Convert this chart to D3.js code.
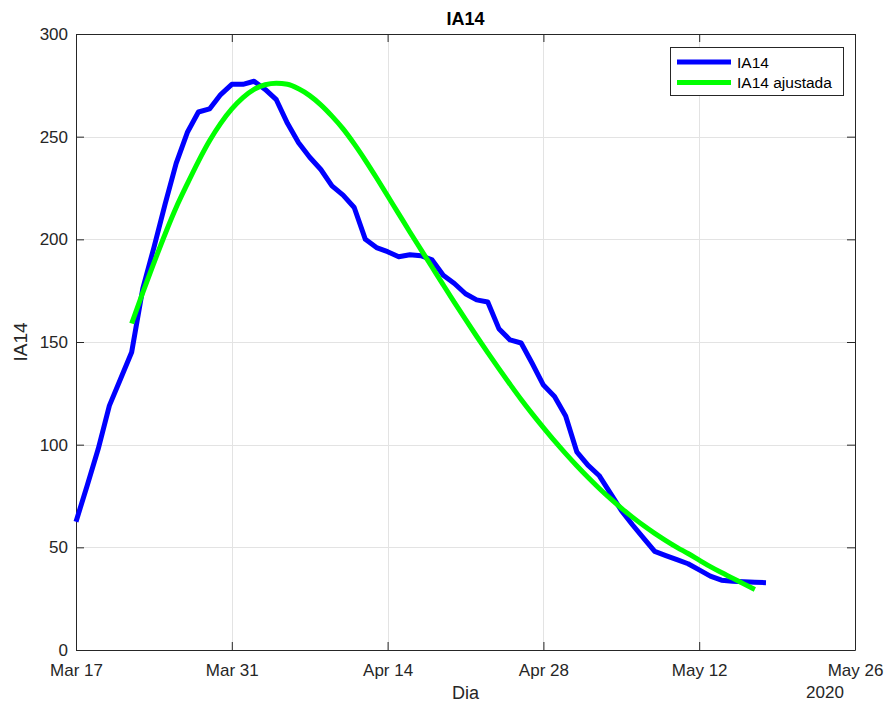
<!DOCTYPE html>
<html>
<head>
<meta charset="utf-8">
<script src="https://cdn.jsdelivr.net/npm/d3@7"></script>
<style>
  html, body { margin: 0; padding: 0; background: #fff; }
  svg { display: block; font-family: "Liberation Sans", Arial, Helvetica, sans-serif; }
</style>
</head>
<body>
<svg id="chart" width="890" height="704"></svg>
<script>
// Daily IA14 series starting on 17 March 2020
const startDate = new Date(2020, 2, 17);
const ia14 = [
  62.5, 80, 98, 119, 132, 145, 176, 196, 217, 237,
  252, 262, 263.5, 270.5, 275.5, 275.5, 277, 273, 268, 256.5,
  247, 240, 234, 226, 221.5, 215.5, 200, 196, 194, 191.5,
  192.5, 192, 190, 182.5, 178.5, 173.5, 170.5, 169.5, 156.5, 151,
  149.5, 139.5, 129, 123.5, 114, 96.5, 90, 85, 76.5, 68,
  61, 54.5, 48, 46, 44, 42, 39, 36, 34, 33.5,
  33.2, 33, 32.8
];
// Fitted curve, daily from 22 March 2020
const fitStartDate = new Date(2020, 2, 22);
const ia14Fit = [
  159, 174, 188.5, 202.5, 215.5, 227, 238, 248, 256.5, 263.5,
  269, 273, 275.3, 276, 275.5, 273.3, 270, 265.5, 260, 253.8,
  246.5, 238.5, 230, 221.2, 212.4, 203.6, 195, 186.4, 177.8, 169.3,
  161, 152.8, 144.8, 137, 129.4, 122, 115, 108.3, 101.8, 95.6,
  89.7, 84.1, 78.8, 73.8, 69.1, 64.7, 60.6, 56.8, 53.3, 50,
  47, 43.8, 40.6, 37.7, 35, 32.2, 29.5
];
const xTickDates = [
  new Date(2020, 2, 17), new Date(2020, 2, 31), new Date(2020, 3, 14),
  new Date(2020, 3, 28), new Date(2020, 4, 12), new Date(2020, 4, 26)
];
const yTicks = [0, 50, 100, 150, 200, 250, 300];
const seriesNames = ["IA14", "IA14 ajustada"];
const seriesColors = ["#0000ff", "#00ff00"];

(function () {
  const dayMs = 24 * 3600 * 1000;
  const toPoints = (start, vals) => vals.map((v, i) => ({ date: new Date(start.getTime() + i * dayMs), v }));

  const svg = d3.select("#chart");
  const mL = 76, mR = 855, mT = 34, mB = 650;
  const axisColor = "#262626";

  const x = d3.scaleTime().domain([xTickDates[0], xTickDates[xTickDates.length - 1]]).range([mL, mR]);
  const y = d3.scaleLinear().domain([0, 300]).range([mB, mT]);

  svg.append("rect").attr("width", 890).attr("height", 704).attr("fill", "#fff");

  // Grid
  const grid = svg.append("g").attr("stroke", "#e3e3e3").attr("stroke-width", 1);
  xTickDates.forEach(d => grid.append("line")
    .attr("x1", Math.round(x(d)) + 0.5).attr("x2", Math.round(x(d)) + 0.5)
    .attr("y1", mT).attr("y2", mB));
  yTicks.forEach(t => grid.append("line")
    .attr("x1", mL).attr("x2", mR)
    .attr("y1", Math.round(y(t)) + 0.5).attr("y2", Math.round(y(t)) + 0.5));

  // Axes with inward ticks (bottom/left labelled, top/right mirrored)
  const fmt = d3.timeFormat("%b %d");
  const xAxisB = d3.axisBottom(x).tickValues(xTickDates).tickFormat(fmt).tickSizeInner(-8).tickSizeOuter(0).tickPadding(14);
  const xAxisT = d3.axisTop(x).tickValues(xTickDates).tickFormat("").tickSizeInner(-8).tickSizeOuter(0);
  const yAxisL = d3.axisLeft(y).tickValues(yTicks).tickSizeInner(-8).tickSizeOuter(0).tickPadding(8);
  const yAxisR = d3.axisRight(y).tickValues(yTicks).tickFormat("").tickSizeInner(-8).tickSizeOuter(0);

  function styleAxis(g) {
    g.selectAll("path").attr("stroke", axisColor);
    g.selectAll("line").attr("stroke", axisColor);
    g.selectAll("text").attr("fill", axisColor).style("font-size", "17px")
      .style("font-family", '"Liberation Sans", Arial, sans-serif');
  }
  svg.append("g").attr("transform", `translate(0,${mB})`).call(xAxisB).call(styleAxis);
  svg.append("g").attr("transform", `translate(0,${mT})`).call(xAxisT).call(styleAxis);
  svg.append("g").attr("transform", `translate(${mL},0)`).call(yAxisL).call(styleAxis);
  svg.append("g").attr("transform", `translate(${mR},0)`).call(yAxisR).call(styleAxis);

  // Series lines
  const line = d3.line().x(d => x(d.date)).y(d => y(d.v));
  const smooth = d3.line().x(d => x(d.date)).y(d => y(d.v)).curve(d3.curveMonotoneX);
  svg.append("path").datum(toPoints(startDate, ia14))
    .attr("fill", "none").attr("stroke", seriesColors[0]).attr("stroke-width", 5)
    .attr("stroke-linejoin", "round").attr("d", line);
  svg.append("path").datum(toPoints(fitStartDate, ia14Fit))
    .attr("fill", "none").attr("stroke", seriesColors[1]).attr("stroke-width", 5)
    .attr("stroke-linejoin", "round").attr("d", smooth);

  // Titles and labels
  svg.append("text").attr("x", (mL + mR) / 2).attr("y", 25).attr("text-anchor", "middle")
    .attr("fill", "#000").style("font-size", "18px").style("font-weight", "bold").text("IA14");
  svg.append("text").attr("transform", `translate(27,${(mT + mB) / 2}) rotate(-90)`)
    .attr("text-anchor", "middle").attr("fill", axisColor).style("font-size", "19px").text("IA14");
  svg.append("text").attr("x", (mL + mR) / 2).attr("y", 699).attr("text-anchor", "middle")
    .attr("fill", axisColor).style("font-size", "18px").text("Dia");
  svg.append("text").attr("x", 825).attr("y", 698).attr("text-anchor", "middle")
    .attr("fill", axisColor).style("font-size", "17px").text("2020");

  // Legend
  const lg = svg.append("g").attr("transform", "translate(670,47)");
  lg.append("rect").attr("x", 0.5).attr("y", 0.5).attr("width", 173).attr("height", 48)
    .attr("fill", "#fff").attr("stroke", axisColor).attr("stroke-width", 1);
  seriesNames.forEach((name, i) => {
    const yy = 15 + i * 20.5;
    lg.append("line").attr("x1", 7).attr("x2", 61).attr("y1", yy).attr("y2", yy)
      .attr("stroke", seriesColors[i]).attr("stroke-width", 5);
    lg.append("text").attr("x", 67).attr("y", yy + 5.5).attr("fill", "#000")
      .style("font-size", "15.5px").text(name);
  });
})();
</script>
</body>
</html>
